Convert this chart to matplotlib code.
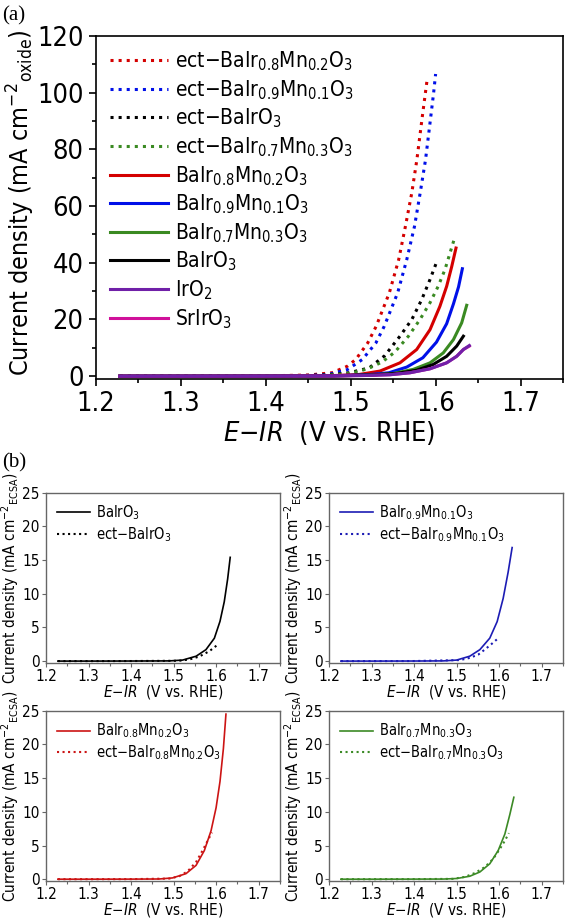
import matplotlib
matplotlib.use("Agg")
import matplotlib.pyplot as plt
import matplotlib.font_manager as fm
from matplotlib.ticker import MultipleLocator

# pick a narrow sans face if one is installed
fonts = fm.fontManager.ttflist
names = {f.name for f in fonts}
if "Liberation Sans Narrow" in names:
    sans, stretch, mt_rm = "Liberation Sans Narrow", "normal", "Liberation Sans Narrow"
elif any(f.name == "DejaVu Sans" and "condensed" in str(f.stretch) for f in fonts):
    sans, stretch, mt_rm = "DejaVu Sans", "condensed", "DejaVu Sans:stretch=condensed"
else:
    sans, stretch, mt_rm = "Liberation Sans", "normal", "Liberation Sans"
narrow = sans != "Liberation Sans"
plt.rcParams["font.family"] = [sans, "DejaVu Sans"]
plt.rcParams["font.stretch"] = stretch
plt.rcParams["mathtext.fontset"] = "custom"
plt.rcParams["mathtext.rm"] = mt_rm
plt.rcParams["mathtext.it"] = mt_rm + ":italic"
plt.rcParams["mathtext.bf"] = mt_rm + ":bold"

# ---- (a) current density normalised by oxide area ----
ect82_x = [1.228, 1.30, 1.40, 1.45, 1.478, 1.496, 1.506, 1.520, 1.530, 1.5455, 1.5565, 1.5644, 1.5719, 1.5779, 1.5845, 1.5897]
ect82_y = [0.0, 0.0, 0.1, 0.4, 1.2, 3.5, 5.9, 11.7, 17.6, 29.4, 41.1, 52.8, 64.6, 76.3, 92.0, 103.9]
ect91_x = [1.228, 1.30, 1.40, 1.45, 1.474, 1.496, 1.5138, 1.5296, 1.5395, 1.5553, 1.566, 1.5751, 1.5818, 1.5881, 1.5929, 1.5976, 1.600]
ect91_y = [0.0, 0.0, 0.05, 0.25, 0.6, 2.3, 5.9, 11.7, 17.6, 29.4, 41.1, 52.8, 64.6, 76.3, 88.1, 99.8, 106.6]
ectba_x = [1.228, 1.30, 1.40, 1.43, 1.47, 1.498, 1.5217, 1.540, 1.558, 1.572, 1.5836, 1.5934, 1.602]
ectba_y = [0.0, 0.0, 0.05, 0.1, 0.4, 1.2, 2.9, 7.2, 14.1, 20.0, 27.0, 34.1, 40.9]
ect73_x = [1.228, 1.30, 1.40, 1.47, 1.50, 1.52, 1.537, 1.552, 1.568, 1.5816, 1.5934, 1.603, 1.611, 1.617, 1.6229]
ect73_y = [0.0, 0.0, 0.05, 0.3, 1.0, 2.6, 5.0, 8.5, 14.1, 20.0, 25.9, 31.7, 37.6, 43.5, 49.3]
ba82_x = [1.228, 1.30, 1.40, 1.48, 1.51, 1.5345, 1.558, 1.5777, 1.5934, 1.605, 1.613, 1.619, 1.624]
ba82_y = [0.0, 0.0, 0.05, 0.2, 0.6, 1.8, 4.7, 9.4, 16.4, 24.6, 31.7, 38.7, 45.2]
ba91_x = [1.228, 1.30, 1.40, 1.48, 1.52, 1.545, 1.566, 1.585, 1.601, 1.613, 1.621, 1.627, 1.6315]
ba91_y = [0.0, 0.0, 0.03, 0.15, 0.5, 1.2, 3.2, 6.5, 12.0, 18.5, 25.5, 31.5, 37.9]
ba73_x = [1.228, 1.30, 1.40, 1.48, 1.52, 1.55, 1.5737, 1.5934, 1.609, 1.621, 1.6307, 1.6366]
ba73_y = [0.0, 0.0, 0.02, 0.1, 0.35, 0.95, 2.4, 4.7, 8.2, 12.9, 18.8, 25.0]
ba_x = [1.228, 1.30, 1.40, 1.48, 1.52, 1.554, 1.5777, 1.597, 1.613, 1.6248, 1.6327]
ba_y = [0.0, 0.0, 0.02, 0.1, 0.35, 0.95, 2.1, 4.1, 7.0, 10.6, 14.1]
iro2_x = [1.228, 1.30, 1.40, 1.48, 1.52, 1.5463, 1.5699, 1.5934, 1.613, 1.6248, 1.6327, 1.6397]
iro2_y = [0.0, 0.0, 0.02, 0.08, 0.25, 0.5, 1.2, 2.6, 4.7, 7.0, 9.4, 10.8]
sr_x = [1.228, 1.30, 1.40, 1.48, 1.52, 1.5463, 1.5699, 1.5934, 1.613, 1.6248, 1.6327, 1.6397]
sr_y = [0.0, 0.0, 0.02, 0.08, 0.25, 0.5, 1.2, 2.6, 4.7, 7.0, 9.4, 10.6]

# ---- (b) current density normalised by ECSA ----
b_ba_x = [1.228, 1.30, 1.40, 1.49, 1.521, 1.553, 1.576, 1.5958, 1.609, 1.619, 1.627, 1.633]
b_ba_y = [0.0, 0.0, 0.01, 0.03, 0.15, 0.73, 1.7, 3.4, 5.9, 8.8, 12.2, 15.4]
b_ectba_x = [1.228, 1.30, 1.40, 1.513, 1.537, 1.560, 1.584, 1.6035]
b_ectba_y = [0.0, 0.0, 0.01, 0.05, 0.24, 0.67, 1.47, 2.43]
b_91_x = [1.228, 1.30, 1.40, 1.469, 1.50, 1.531, 1.5547, 1.578, 1.5953, 1.6094, 1.6211, 1.6305]
b_91_y = [0.0, 0.0, 0.01, 0.03, 0.15, 0.73, 1.70, 3.41, 5.86, 9.3, 13.2, 16.85]
b_ect91_x = [1.228, 1.30, 1.40, 1.508, 1.531, 1.551, 1.566, 1.582, 1.5962]
b_ect91_y = [0.0, 0.0, 0.01, 0.15, 0.48, 0.97, 1.70, 2.53, 3.31]
b_82_x = [1.228, 1.30, 1.40, 1.466, 1.4976, 1.529, 1.5527, 1.5722, 1.588, 1.5998, 1.609, 1.617, 1.623]
b_82_y = [0.0, 0.0, 0.01, 0.03, 0.19, 0.82, 2.05, 4.25, 7.2, 10.6, 14.5, 19.4, 24.5]
b_ect82_x = [1.228, 1.30, 1.40, 1.49, 1.5134, 1.533, 1.5527, 1.568, 1.58, 1.590]
b_ect82_y = [0.0, 0.0, 0.01, 0.09, 0.44, 1.17, 2.54, 4.25, 5.71, 6.93]
b_73_x = [1.228, 1.30, 1.40, 1.469, 1.50, 1.531, 1.5547, 1.578, 1.5977, 1.6134, 1.6251, 1.6345]
b_73_y = [0.0, 0.0, 0.01, 0.02, 0.1, 0.44, 1.07, 2.29, 4.25, 6.7, 9.6, 12.16]
b_ect73_x = [1.228, 1.30, 1.40, 1.492, 1.5195, 1.543, 1.5664, 1.586, 1.6017, 1.6134, 1.6228]
b_ect73_y = [0.0, 0.0, 0.01, 0.05, 0.34, 0.92, 1.80, 3.02, 4.49, 5.71, 6.83]

RED = "#d40000"
BLUE = "#0010e8"
GREEN = "#3a8a22"
PURPLE = "#7020a8"
MAG = "#d0109a"

big = 19.5 if narrow else 18.5
leg = 15 if narrow else 14.5
small = 11 if narrow else 10.5

fig = plt.figure(figsize=(5.67, 9.21), dpi=100)

# panel (a)
ax = fig.add_axes([0.1693, 0.5885, 0.8236, 0.3724])
lw = 2.2
ax.plot(ect82_x, ect82_y, ":", color=RED, lw=lw, label="ect−BaIr$_{0.8}$Mn$_{0.2}$O$_3$")
ax.plot(ect91_x, ect91_y, ":", color=BLUE, lw=lw, label="ect−BaIr$_{0.9}$Mn$_{0.1}$O$_3$")
ax.plot(ectba_x, ectba_y, ":", color="black", lw=lw, label="ect−BaIrO$_3$")
ax.plot(ect73_x, ect73_y, ":", color=GREEN, lw=lw, label="ect−BaIr$_{0.7}$Mn$_{0.3}$O$_3$")
ax.plot(ba82_x, ba82_y, "-", color=RED, lw=lw, label="BaIr$_{0.8}$Mn$_{0.2}$O$_3$")
ax.plot(ba91_x, ba91_y, "-", color=BLUE, lw=lw, label="BaIr$_{0.9}$Mn$_{0.1}$O$_3$")
ax.plot(ba73_x, ba73_y, "-", color=GREEN, lw=lw, label="BaIr$_{0.7}$Mn$_{0.3}$O$_3$")
ax.plot(ba_x, ba_y, "-", color="black", lw=lw, label="BaIrO$_3$")
ax.plot(iro2_x, iro2_y, "-", color=PURPLE, lw=lw, label="IrO$_2$", zorder=3)
ax.plot(sr_x, sr_y, "-", color=MAG, lw=lw, label="SrIrO$_3$", zorder=2)

ax.set_xlim(1.2, 1.75)
ax.set_ylim(-1, 120)
ax.xaxis.set_minor_locator(MultipleLocator(0.05))
ax.yaxis.set_major_locator(MultipleLocator(20))
ax.yaxis.set_minor_locator(MultipleLocator(10))
ax.set_xticks([1.2, 1.3, 1.4, 1.5, 1.6, 1.7])
ax.set_xticklabels(["1.2", "1.3", "1.4", "1.5", "1.6", "1.7"])
ax.tick_params(which="major", direction="out", length=5, width=1.2, labelsize=big, pad=4)
ax.tick_params(which="minor", direction="out", length=3, width=1.2)
for s in ax.spines.values():
    s.set_linewidth(1.2)
ax.set_ylabel("Current density (mA cm$^{-2}$$_{\\mathrm{oxide}}$)", fontsize=18, labelpad=3)
ax.yaxis.set_label_coords(-0.127, 0.515)
ax.set_xlabel("$\\mathit{E}$−$\\mathit{IR}$  (V vs. RHE)", fontsize=big, labelpad=1)
ax.legend(loc="upper left", bbox_to_anchor=(0.0, 1.0), frameon=False, fontsize=leg,
          handlelength=2.8, handletextpad=0.35, labelspacing=0.24, borderaxespad=0.25)

fig.text(0.004, 0.993, "(a)", family="Liberation Serif", fontsize=15, va="top", ha="left")
fig.text(0.004, 0.497, "(b)", family="Liberation Serif", fontsize=15, va="center", ha="left")

# panels (b)
GRAY = "#666666"
panels = [
    ([0.0811, 0.2800, 0.4127, 0.1851], b_ba_x, b_ba_y, b_ectba_x, b_ectba_y, "black",
     "BaIrO$_3$", "ect−BaIrO$_3$"),
    ([0.5802, 0.2800, 0.4127, 0.1851], b_91_x, b_91_y, b_ect91_x, b_ect91_y, "#1c1cb4",
     "BaIr$_{0.9}$Mn$_{0.1}$O$_3$", "ect−BaIr$_{0.9}$Mn$_{0.1}$O$_3$"),
    ([0.0811, 0.0432, 0.4127, 0.1851], b_82_x, b_82_y, b_ect82_x, b_ect82_y, "#cc1414",
     "BaIr$_{0.8}$Mn$_{0.2}$O$_3$", "ect−BaIr$_{0.8}$Mn$_{0.2}$O$_3$"),
    ([0.5802, 0.0432, 0.4127, 0.1851], b_73_x, b_73_y, b_ect73_x, b_ect73_y, "#3c8a26",
     "BaIr$_{0.7}$Mn$_{0.3}$O$_3$", "ect−BaIr$_{0.7}$Mn$_{0.3}$O$_3$"),
]
for rect, sx, sy, dx, dy, col, lab1, lab2 in panels:
    a = fig.add_axes(rect)
    a.plot(sx, sy, "-", color=col, lw=1.2, label=lab1)
    a.plot(dx, dy, ":", color=col, lw=1.5, label=lab2)
    a.set_xlim(1.2, 1.75)
    a.set_ylim(-0.3, 25)
    a.set_xticks([1.2, 1.3, 1.4, 1.5, 1.6, 1.7])
    a.set_xticklabels(["1.2", "1.3", "1.4", "1.5", "1.6", "1.7"])
    a.xaxis.set_minor_locator(MultipleLocator(0.05))
    a.yaxis.set_major_locator(MultipleLocator(5))
    a.tick_params(which="major", direction="out", length=3, width=0.8, labelsize=small, pad=1.5,
                  color=GRAY)
    a.tick_params(which="minor", direction="out", length=2, width=0.8, color=GRAY)
    for s in a.spines.values():
        s.set_linewidth(1.0)
        s.set_color(GRAY)
    a.set_ylabel("Current density (mA cm$^{-2}$$_{\\mathrm{ECSA}}$)", fontsize=small, labelpad=1)
    a.set_xlabel("$\\mathit{E}$−$\\mathit{IR}$  (V vs. RHE)", fontsize=small, labelpad=-1)
    a.legend(loc="upper left", frameon=False, fontsize=small - 0.5, handlelength=2.3,
             handletextpad=0.35, labelspacing=0.2, borderaxespad=0.35)

fig.savefig("out.png", dpi=100)
